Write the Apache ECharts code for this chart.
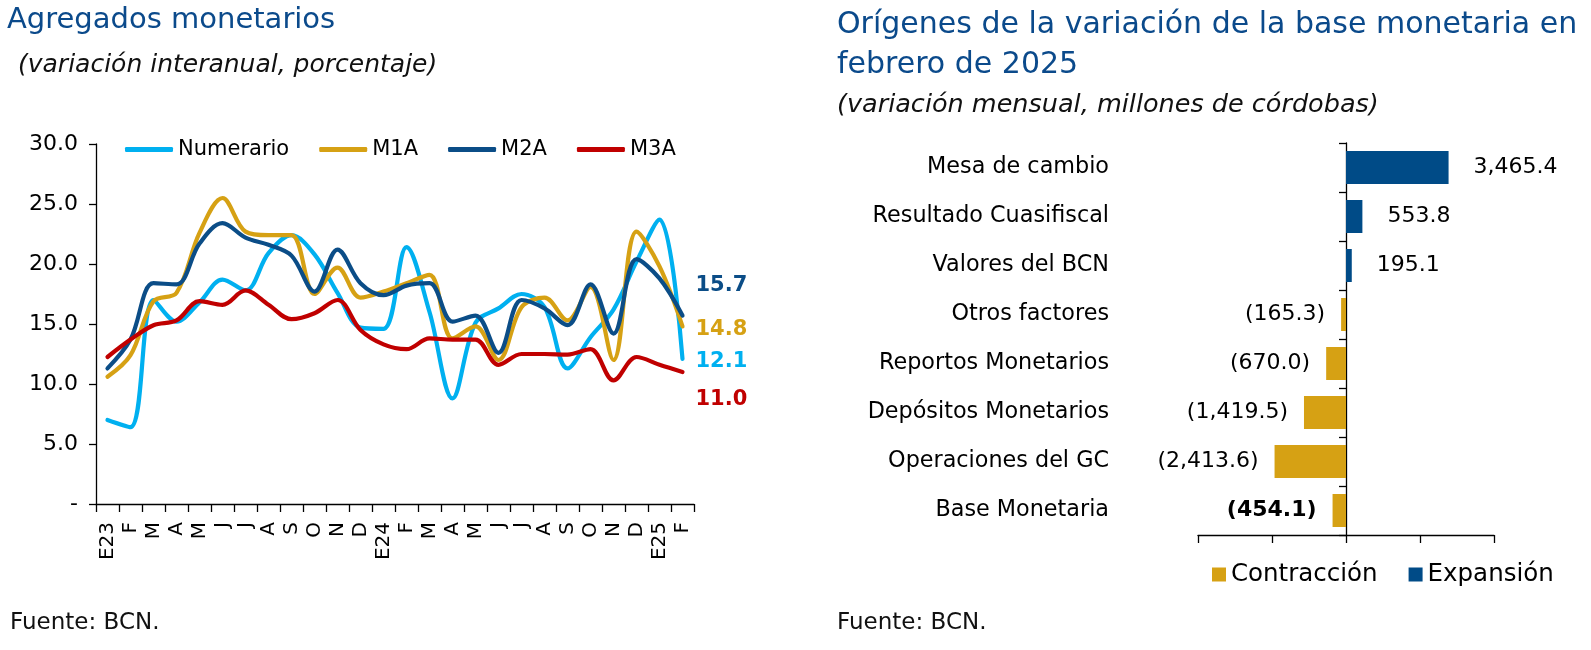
<!DOCTYPE html>
<html>
<head>
<meta charset="utf-8">
<script src="https://cdn.jsdelivr.net/npm/echarts@6/dist/echarts.min.js"></script>
<style>
html,body{margin:0;padding:0;background:#ffffff;}
#c{width:1591px;height:650px;}
</style>
</head>
<body>
<div id="c"></div>
<script>
// ---- Data: Agregados monetarios (variación interanual, %) ----
const months = ['E23','F','M','A','M','J','J','A','S','O','N','D','E24','F','M','A','M','J','J','A','S','O','N','D','E25','F'];
const numerario = [7.0, 6.4, 17.0, 15.2, 16.8, 18.7, 17.8, 20.9, 22.4, 20.8, 17.6, 14.7, 14.6, 21.4, 16.0, 8.8, 15.1, 16.3, 17.5, 16.4, 11.3, 13.9, 16.2, 20.2, 23.7, 12.1];
const m1a = [10.6, 12.4, 16.9, 17.6, 22.6, 25.5, 22.7, 22.4, 22.4, 17.5, 19.7, 17.2, 17.7, 18.4, 19.1, 13.8, 14.8, 12.0, 16.4, 17.2, 15.3, 18.1, 12.0, 22.7, 19.8, 14.8];
const m2a = [11.3, 13.7, 18.4, 18.3, 21.7, 23.4, 22.2, 21.6, 20.7, 17.7, 21.2, 18.4, 17.4, 18.2, 18.4, 15.2, 15.7, 12.6, 17.0, 16.3, 14.9, 18.3, 14.2, 20.4, 18.8, 15.7];
const m3a = [12.25, 13.7, 14.9, 15.3, 16.9, 16.6, 17.8, 16.6, 15.4, 15.9, 17.0, 14.5, 13.3, 12.9, 13.8, 13.7, 13.7, 11.6, 12.5, 12.5, 12.45, 12.9, 10.3, 12.25, 11.6, 11.0];
const lineNames = ['Numerario', 'M1A', 'M2A', 'M3A'];

// ---- Data: Orígenes de la variación de la base monetaria (millones de córdobas) ----
const origenCats = ['Mesa de cambio','Resultado Cuasifiscal','Valores del BCN','Otros factores','Reportos Monetarios','Depósitos Monetarios','Operaciones del GC','Base Monetaria'];
const origenVals = [3465.4, 553.8, 195.1, -165.3, -670.0, -1419.5, -2413.6, -454.1];
const barNames = ['Contracción', 'Expansión'];
const totalCat = 'Base Monetaria';

// ---- Styles ----
const F = 'DejaVu Sans';
const TITLE = '#0B4A8B';
const C_NUM = '#00B0F0', C_M1 = '#D6A114', C_M2 = '#0B4D87', C_M3 = '#C00000';
const GOLD = '#D6A114', BLUE = '#004B87';
const AXC = '#000000';

function fmtNum(v) {
  const s = Math.abs(v).toLocaleString('en-US', {minimumFractionDigits: 1, maximumFractionDigits: 1});
  return v < 0 ? '(' + s + ')' : s;
}

function lineSeries(name, data, color, dy) {
  return {
    name: name, type: 'line', data: data, xAxisIndex: 0, yAxisIndex: 0,
    smooth: 0.35, symbol: 'none', z: 3,
    lineStyle: {width: 4.2, color: color, cap: 'round', join: 'round'},
    itemStyle: {color: color},
    endLabel: {
      show: true, color: color, fontFamily: F, fontWeight: 'bold', fontSize: 21,
      distance: 13, offset: [0, dy],
      formatter: function (p) { return Number(p.value).toFixed(1); }
    }
  };
}

function barData(sign) {
  return origenVals.map(function (v, i) {
    const keep = sign < 0 ? v < 0 : v >= 0;
    if (!keep) return null;
    if (origenCats[i] === totalCat) return {value: v, label: {fontWeight: 'bold'}};
    return v;
  });
}

const chart = echarts.init(document.getElementById('c'), null, {renderer: 'canvas'});

const option = {
  animation: false,
  backgroundColor: '#ffffff',
  title: [
    {text: 'Agregados monetarios', left: 7, top: 2, padding: 0,
      textStyle: {fontFamily: F, fontSize: 29, fontWeight: 'normal', color: TITLE, lineHeight: 36}},
    {text: '(variación interanual, porcentaje)', left: 18, top: 50, padding: 0,
      textStyle: {fontFamily: F, fontSize: 25, fontStyle: 'italic', fontWeight: 'normal', color: '#111', lineHeight: 30}},
    {text: 'Orígenes de la variación de la base monetaria en\nfebrero de 2025', left: 837, top: 5, padding: 0,
      textStyle: {fontFamily: F, fontSize: 30, fontWeight: 'normal', color: TITLE, lineHeight: 40}},
    {text: '(variación mensual, millones de córdobas)', left: 837, top: 90, padding: 0,
      textStyle: {fontFamily: F, fontSize: 25.5, fontStyle: 'italic', fontWeight: 'normal', color: '#111', lineHeight: 30}},
    {text: 'Fuente: BCN.', left: 10, top: 609, padding: 0,
      textStyle: {fontFamily: F, fontSize: 23, fontWeight: 'normal', color: '#111', lineHeight: 28}},
    {text: 'Fuente: BCN.', left: 837, top: 609, padding: 0,
      textStyle: {fontFamily: F, fontSize: 23, fontWeight: 'normal', color: '#111', lineHeight: 28}}
  ],
  legend: [
    {data: lineNames, left: 125, top: 139, padding: 0, icon: 'roundRect', itemWidth: 48, itemHeight: 5, itemGap: 30,
      textStyle: {fontFamily: F, fontSize: 21, color: '#000'}},
    {data: barNames, left: 1212, top: 562, padding: 0, icon: 'rect', itemWidth: 14, itemHeight: 14, itemGap: 31,
      textStyle: {fontFamily: F, fontSize: 24.5, color: '#000'}}
  ],
  grid: [
    {left: 96, top: 144, width: 598, height: 360, containLabel: false},
    {left: 1198, top: 143, width: 296, height: 392, containLabel: false}
  ],
  xAxis: [
    {type: 'category', gridIndex: 0, data: months, boundaryGap: true,
      axisLine: {show: true, lineStyle: {color: AXC, width: 1.3}},
      axisTick: {show: true, length: 8, alignWithLabel: false, interval: 0, lineStyle: {color: AXC, width: 1.3}},
      axisLabel: {rotate: 90, interval: 0, margin: 18, fontFamily: F, fontSize: 20, color: '#000'},
      splitLine: {show: false}},
    {type: 'value', gridIndex: 1, min: -5000, max: 5000, interval: 2500, position: 'bottom',
      axisLine: {show: true, onZero: false, lineStyle: {color: AXC, width: 1.3}},
      axisTick: {show: true, length: 8, lineStyle: {color: AXC, width: 1.3}},
      axisLabel: {show: false}, splitLine: {show: false}}
  ],
  yAxis: [
    {type: 'value', gridIndex: 0, min: 0, max: 30, interval: 5,
      axisLine: {show: true, lineStyle: {color: AXC, width: 1.3}},
      axisTick: {show: true, length: 7, lineStyle: {color: AXC, width: 1.3}},
      axisLabel: {margin: 18, fontFamily: F, fontSize: 22, color: '#000',
        formatter: function (v) { return v === 0 ? '-' : v.toFixed(1); }},
      splitLine: {show: false}},
    {type: 'category', gridIndex: 1, data: origenCats, inverse: true,
      axisLine: {show: true, onZero: true, lineStyle: {color: AXC, width: 1.3}},
      axisTick: {show: true, length: 7, alignWithLabel: false, lineStyle: {color: AXC, width: 1.3}},
      axisLabel: {margin: 89, fontFamily: F, fontSize: 22.3, color: '#000'},
      splitLine: {show: false}}
  ],
  series: [
    lineSeries('Numerario', numerario, C_NUM, 3),
    lineSeries('M1A', m1a, C_M1, 3),
    lineSeries('M2A', m2a, C_M2, -30),
    lineSeries('M3A', m3a, C_M3, 28),
    {name: 'Contracción', type: 'bar', xAxisIndex: 1, yAxisIndex: 1, barWidth: 33, barGap: '-100%',
      data: barData(-1), itemStyle: {color: GOLD},
      label: {show: true, position: 'left', distance: 16, fontFamily: F, fontSize: 22, color: '#000',
        formatter: function (p) { return fmtNum(p.value); }}},
    {name: 'Expansión', type: 'bar', xAxisIndex: 1, yAxisIndex: 1, barWidth: 33, barGap: '-100%',
      data: barData(1), itemStyle: {color: BLUE},
      label: {show: true, position: 'right', distance: 25, fontFamily: F, fontSize: 22, color: '#000',
        formatter: function (p) { return fmtNum(p.value); }}}
  ]
};

chart.setOption(option);
</script>
</body>
</html>
